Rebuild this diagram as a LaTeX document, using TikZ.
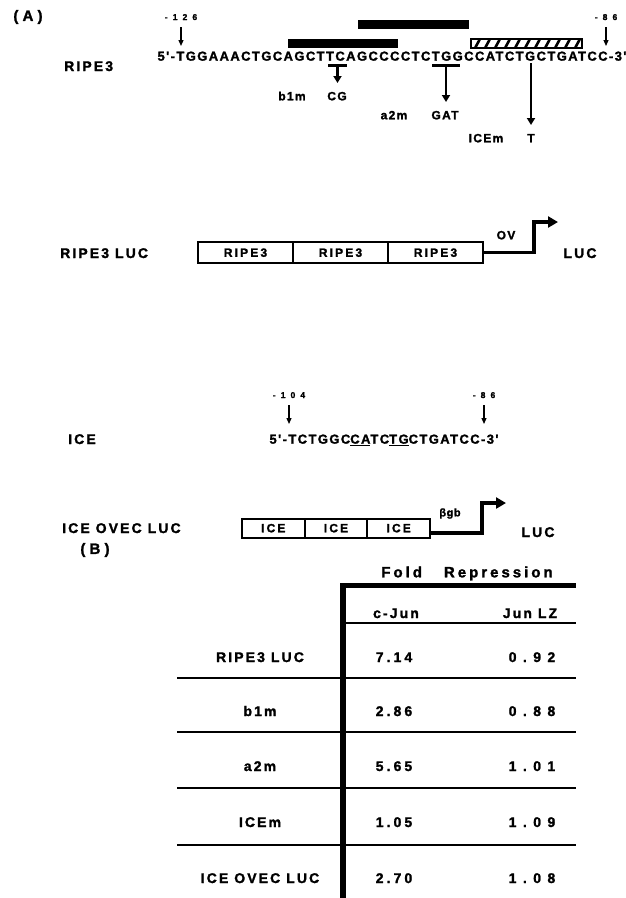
\documentclass[tikz,border=0pt]{standalone}
\usepackage{fontspec}
\setmainfont{Liberation Sans}
\usetikzlibrary{arrows.meta}
% bold face, size and tracking in one go
\newcommand\bff[2]{\fontspec{Liberation Sans Bold}[LetterSpace=#2, FakeBold=1.6]\fontsize{#1}{#1}\selectfont}

\tikzset{
  lbl/.style={font=\bff{14}{15}, inner sep=0pt, text height=10pt, text depth=0pt},
  seqtext/.style={font=\bff{13}{10.8}, inner sep=0pt, text height=9.3pt, text depth=0pt},
  posnum/.style={font=\bff{8.5}{60}, inner sep=0pt, text height=6.1pt, text depth=0pt},
  mut/.style={font=\bff{12}{11}, inner sep=0pt, text height=8.6pt, text depth=0pt},
  panel/.style={font=\bff{15}{28}, inner sep=0pt},
  cass/.style={draw, line width=2pt, font=\bff{12}{18}, inner sep=0pt,
    text height=8.6pt, text depth=0pt, minimum height=21pt},
  header/.style={font=\bff{15}{20}, inner sep=0pt, text height=10.7pt, text depth=0pt},
  tbl/.style={font=\bff{14}{15}, inner sep=0pt, text height=10pt, text depth=0pt},
  numA/.style={font=\bff{14}{22}, inner sep=0pt, text height=10pt, text depth=0pt},
  numB/.style={font=\bff{14}{46}, inner sep=0pt, text height=10pt, text depth=0pt},
  posarrow/.style={line width=1.2pt, -{Triangle[width=5pt,length=6pt]}, shorten <=7pt},
  mutarrow/.style={line width=2.6pt, -{Triangle[width=8pt,length=7pt]}},
  tbar/.style={line width=3pt},
  promo/.style={line width=3.5pt, -{Triangle[width=11pt,length=10pt]}},
  rowrule/.style={line width=2.5pt}
}

\begin{document}
\begin{tikzpicture}[x=1pt, y=-1pt]
  % ==== FRAME ====
  \useasboundingbox (0,0) rectangle (626,898);

  % ==== PANEL (A) ====
  \node[panel] (panA) at (28,17) {(A)};

  % ==== RIPE3 SEQUENCE ====
  \node[lbl, anchor=west] (labRipe) at (64,66) {RIPE3};
  \node[seqtext] (seqRipe) at (392,56) {5'-TGGAAACTGCAGCTTCAGCCCCTCTGGCCATCTGCTGATCC-3'};

  % positions
  \node[posnum] (p126) at (181,17) {-126};
  \node[posnum] (p86) at (606,17) {-86};
  \coordinate (t126) at (181,46);
  \coordinate (t86) at (606,46);
  \draw[posarrow] (p126) -- (t126);
  \draw[posarrow] (p86) -- (t86);

  % binding regions
  \fill (358,20) rectangle (469,29);
  \fill (288,39) rectangle (398,48);
  \begin{scope}
    \clip (471,39) rectangle (582,48);
    \foreach \x in {464,474,...,594}
      \draw[line width=2.6pt] (\x,50) -- (\x+7,37);
  \end{scope}
  \draw[line width=1.3pt] (471,39) rectangle (582,48);

  % ==== MUTATIONS ====
  % b1m
  \coordinate (b1L) at (328,65);
  \coordinate (b1R) at (347,65);
  \coordinate (b1mid) at (337.5,65);
  \coordinate (b1tip) at (337.5,83);
  \draw[tbar] (b1L) -- (b1R);
  \draw[mutarrow] (b1mid) -- (b1tip);
  \node[mut] (b1m) at (292,96) {b1m};
  \node[mut] (cgB) at (337,96) {CG};
  % a2m
  \coordinate (a2L) at (432,65);
  \coordinate (a2R) at (460,65);
  \coordinate (a2mid) at (446,65);
  \coordinate (a2tip) at (446,102);
  \draw[tbar] (a2L) -- (a2R);
  \draw[mutarrow] (a2mid) -- (a2tip);
  \node[mut] (a2m) at (394,115) {a2m};
  \node[mut] (gatB) at (445,115) {GAT};
  % ICEm
  \coordinate (icTop) at (531,63);
  \coordinate (icTip) at (531,125);
  \draw[mutarrow] (icTop) -- (icTip);
  \node[mut] (icem) at (486,138) {ICEm};
  \node[mut] (tB) at (531,138) {T};

  % ==== RIPE3 LUC CONSTRUCT ====
  \node[lbl, anchor=west] (labRluc) at (60,253) {RIPE3 LUC};
  \node[cass, minimum width=95pt] (r1) at (245.5,252.5) {RIPE3};
  \node[cass, minimum width=95pt] (r2) at (340.5,252.5) {RIPE3};
  \node[cass, minimum width=95pt] (r3) at (435.5,252.5) {RIPE3};
  \coordinate (ovbend) at (534,252.5);
  \coordinate (ovtop) at (534,222);
  \coordinate (ovtip) at (558,222);
  \draw[promo] (r3.east) -- (ovbend) -- (ovtop) -- (ovtip);
  \node[mut] (ov) at (506,235) {OV};
  \node[lbl] (lucR) at (580,253) {LUC};

  % ==== ICE SEQUENCE ====
  \node[lbl, anchor=west] (labIce) at (68,439) {ICE};
  \node[seqtext] (seqIce) at (384,439) {5'-TCTGGC\underline{CA}TC\underline{TG}CTGATCC-3'};
  \node[posnum] (p104) at (289,395) {-104};
  \node[posnum] (p86b) at (484,395) {-86};
  \coordinate (t104) at (289,424);
  \coordinate (t86b) at (484,424);
  \draw[posarrow] (p104) -- (t104);
  \draw[posarrow] (p86b) -- (t86b);

  % ==== ICE OVEC LUC CONSTRUCT ====
  \node[lbl, anchor=west] (labIluc) at (62,528) {ICE OVEC LUC};
  \node[cass, minimum width=62.7pt, minimum height=19pt] (i1) at (273.3,528) {ICE};
  \node[cass, minimum width=62.7pt, minimum height=19pt] (i2) at (336,528) {ICE};
  \node[cass, minimum width=62.7pt, minimum height=19pt] (i3) at (398.7,528) {ICE};
  \coordinate (gbbend) at (482,533);
  \coordinate (gbtop) at (482,503);
  \coordinate (gbtip) at (506,503);
  \draw[promo] ([yshift=-5pt]i3.east) -- (gbbend) -- (gbtop) -- (gbtip);
  \node[mut, font=\bff{11}{5}] (bgb) at (450,512) {βgb};
  \node[lbl] (lucI) at (538,532) {LUC};

  % ==== PANEL (B): TABLE ====
  \node[panel] (panB) at (95,550) {(B)};
  \node[header] (hdr) at (467,572) {Fold\hspace{22pt}Repression};
  \draw[line width=6.5pt] (343,898) -- (343,583);
  \draw[line width=5pt] (340,585.5) -- (576,585.5);
  \node[tbl] (hcj) at (396,613) {c-Jun};
  \node[tbl] (hlz) at (530,613) {Jun LZ};
  \draw[line width=2pt] (346,623) -- (576,623);
  \foreach \y in {678,732,788,845}
    \draw[rowrule] (177,\y) -- (576,\y);
  \foreach \lab/\a/\b/\y [count=\i] in {RIPE3 LUC/7.14/0.92/657, b1m/2.86/0.88/711,
      a2m/5.65/1.01/766, ICEm/1.05/1.09/822, ICE OVEC LUC/2.70/1.08/878}{
    \node[tbl] (row\i) at (260,\y) {\lab};
    \node[numA] (cj\i) at (394,\y) {\a};
    \node[numB] (lz\i) at (532,\y) {\b};
  }
\end{tikzpicture}
\end{document}
